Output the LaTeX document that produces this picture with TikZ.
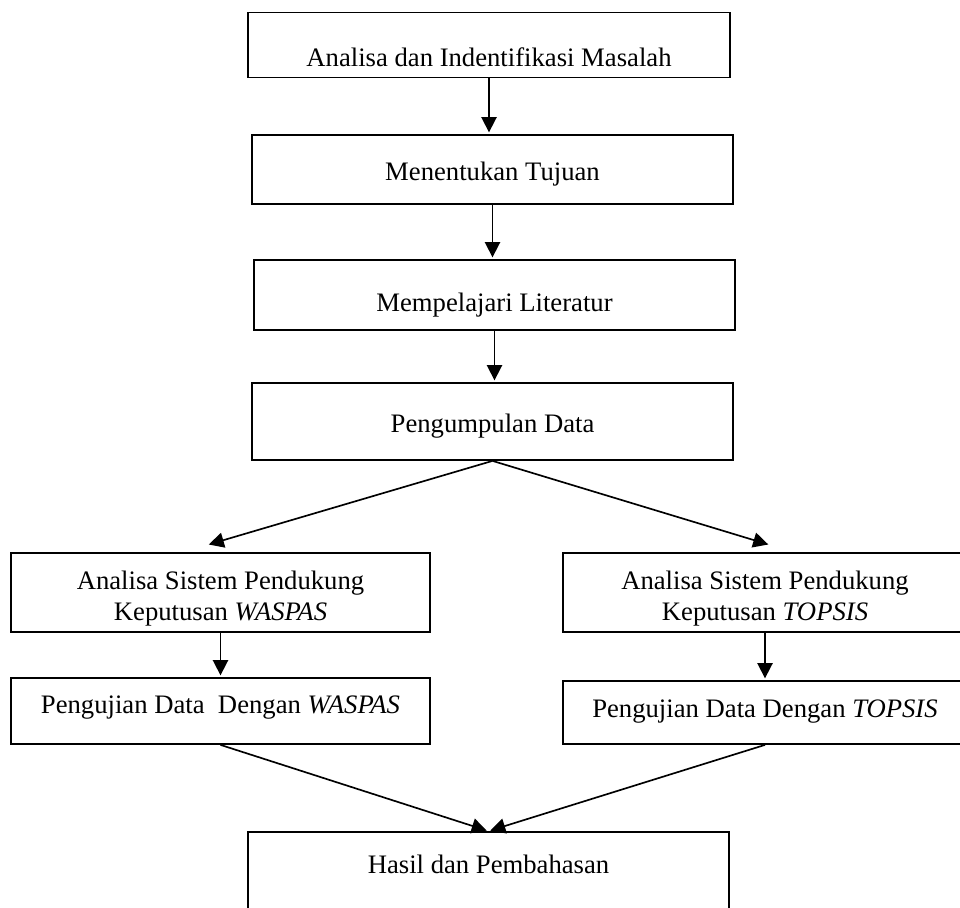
\documentclass[tikz,border=0pt]{standalone}
\usepackage{fontspec}
\setmainfont{Liberation Serif}
\usetikzlibrary{arrows.meta}
\tikzset{
  stepbox/.style={draw,line width=0.8pt,inner ysep=0pt,
                  font=\fontsize{12pt}{13.6pt}\selectfont},
  arrow/.style={-{Triangle[length=6.8pt,width=6.8pt]},line width=0.75pt,shorten >=0.8pt}
}
\begin{document}
\begin{tikzpicture}[x=0.45pt,y=-0.45pt]
  \useasboundingbox (0,0) rectangle (960,907);

  % Main column of steps.
  \node[stepbox,minimum width=216.9pt,text height=24.3pt,text depth=4.95pt] (analisa) at (489,45)
    {Analisa dan Indentifikasi Masalah};
  \node[stepbox,minimum width=216.45pt,text height=20.7pt,text depth=10.35pt] (tujuan) at (492.5,169.5)
    {Menentukan Tujuan};
  \node[stepbox,minimum width=216.45pt,text height=22.95pt,text depth=8.55pt] (literatur) at (494.5,295)
    {Mempelajari Literatur};
  \node[stepbox,minimum width=216.45pt,text height=22.05pt,text depth=12.6pt] (data) at (492.5,421.5)
    {Pengumpulan Data};

  % Two methods side by side.
  \node[stepbox,align=center,minimum width=188.55pt,text height=30.15pt,text depth=5.4pt] (aspwaspas) at (220.5,592.5)
    {Analisa Sistem Pendukung\\Keputusan \textit{WASPAS}};
  \node[stepbox,align=center,minimum width=181.8pt,text height=30.15pt,text depth=5.4pt] (asptopsis) at (765,592.5)
    {Analisa Sistem Pendukung\\Keputusan \textit{TOPSIS}};
  \node[stepbox,minimum width=188.55pt,text height=15.75pt,text depth=13.95pt] (ujiwaspas) at (220.5,711)
    {Pengujian Data\ \ Dengan \textit{WASPAS}};
  \node[stepbox,minimum width=181.8pt,text height=16.2pt,text depth=12.15pt] (ujitopsis) at (765,712.5)
    {Pengujian Data Dengan \textit{TOPSIS}};

  % Result.
  \node[stepbox,minimum width=216.45pt,text height=18.45pt,text depth=17.55pt] (hasil) at (488.5,872)
    {Hasil dan Pembahasan};

  \coordinate (waspasin) at (207,545);
  \coordinate (topsisin) at (770,545);

  \draw[arrow] (analisa.south) -- (analisa.south |- tujuan.north);
  \draw[arrow] (tujuan.south) -- (tujuan.south |- literatur.north);
  \draw[arrow] (literatur.south) -- (literatur.south |- data.north);
  \draw[arrow] (data.south) -- (waspasin);
  \draw[arrow] (data.south) -- (topsisin);
  \draw[arrow] (aspwaspas.south) -- (aspwaspas.south |- ujiwaspas.north);
  \draw[arrow] (asptopsis.south) -- (asptopsis.south |- ujitopsis.north);
  \draw[arrow] (ujiwaspas.south) -- (hasil.north);
  \draw[arrow] (ujitopsis.south) -- (hasil.north);
\end{tikzpicture}
\end{document}
